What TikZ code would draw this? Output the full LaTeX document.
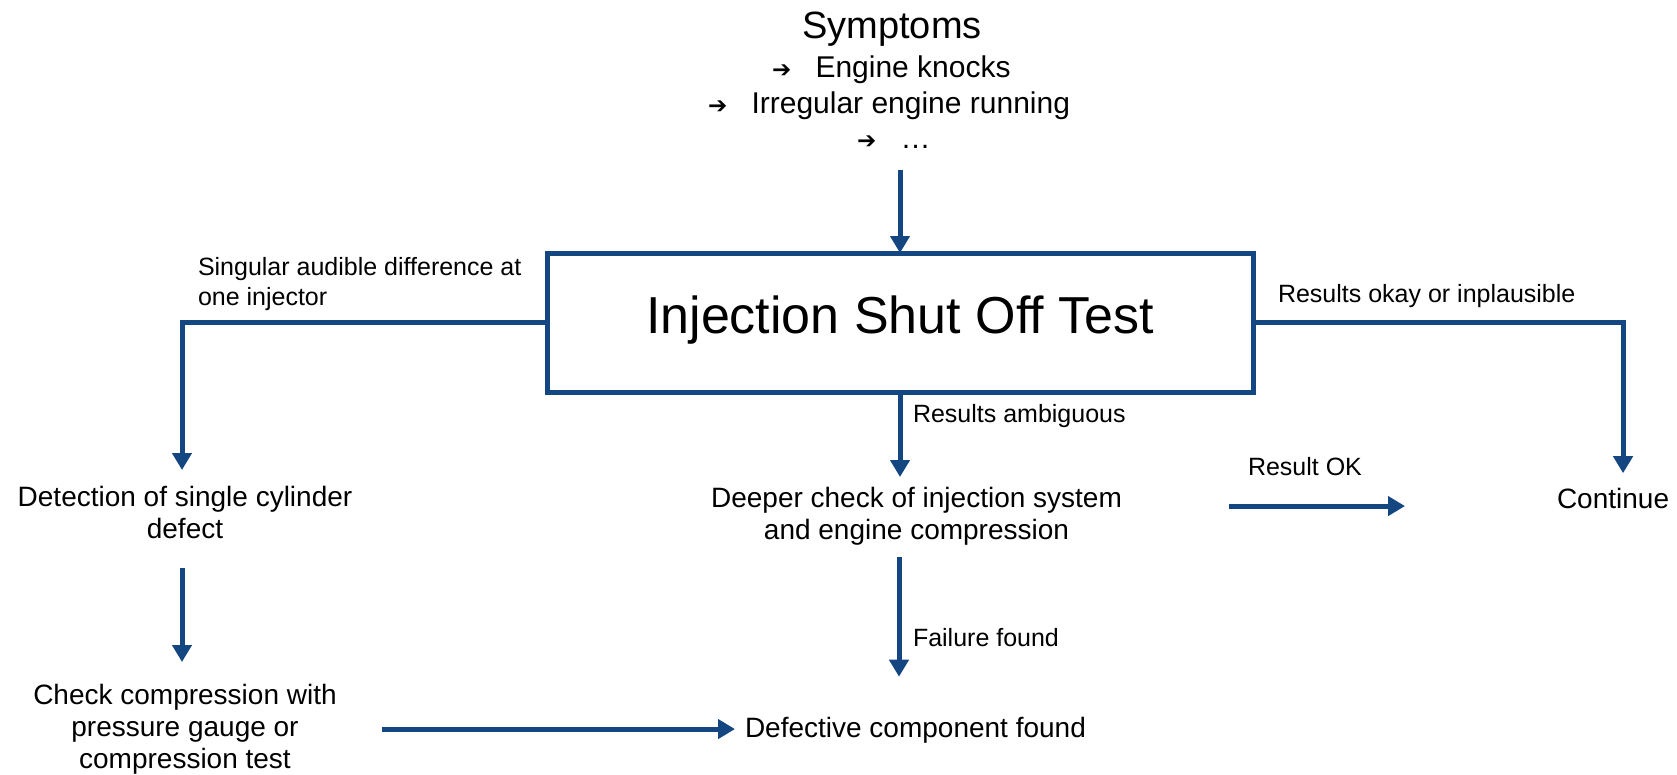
\documentclass[tikz,border=0pt]{standalone}
\usepackage{fontspec}
\setmainfont{Liberation Sans}
\newfontfamily\djv{DejaVu Sans}
\usetikzlibrary{arrows.meta,calc}
\definecolor{flowblue}{RGB}{20,70,130}
\newcommand{\fsz}[2]{\fontsize{#1}{#2}\selectfont}
\newcommand{\arw}{\makebox[43.5pt][l]{\djv\bfseries\fontsize{23}{23}\selectfont ➔}}
\begin{document}
\begin{tikzpicture}[x=1pt,y=-1pt,
  conn/.style={draw=flowblue,line width=5pt,-{Triangle[width=19pt,length=17pt]}},
  every node/.style={inner sep=0pt,outer sep=0pt},
  stepnode/.style={font=\fsz{28}{32},align=center},
  lbl/.style={font=\fsz{25}{30},align=left},
  sym/.style={font=\fsz{30}{36},anchor=base west}]
\useasboundingbox (0,0) rectangle (1677,774);
% symptoms
\node[font=\fsz{38}{44},anchor=base] (symp) at (892,38) {Symptoms};
\node[sym] (s1) at (772,77) {\arw Engine knocks};
\node[sym] (s2) at (708,113) {\arw Irregular engine running};
\node[sym] (s3) at (857,148) {\arw …};
\coordinate (symtail) at (900,170);
% main box
\node[draw=flowblue,line width=5pt,minimum width=706pt,minimum height=139pt,font=\fsz{52}{60}] (box) at (900,322.5) {\raisebox{-10.5pt}[0pt][0pt]{Injection Shut Off Test}};
% steps
\node[stepnode,anchor=north] (det) at (185,486) {Detection of single cylinder\\defect};
\node[stepnode,anchor=north] (deep) at (916.5,487) {Deeper check of injection system\\and engine compression};
\node[stepnode,anchor=north] (chk) at (185,684) {Check compression with\\pressure gauge or\\compression test};
\node[stepnode,anchor=base west] (def) at (745,737) {Defective component found};
\node[stepnode,anchor=base west] (cont) at (1557,508) {Continue};
% labels
\node[lbl,anchor=north west] (lsing) at (198,257) {Singular audible difference at\\one injector};
\node[lbl,anchor=base west] (lok) at (1278,302) {Results okay or inplausible};
\node[lbl,anchor=base west] (lamb) at (913,422) {Results ambiguous};
\node[lbl,anchor=base west] (lfail) at (913,646) {Failure found};
\node[lbl,anchor=base west] (lres) at (1248,475) {Result OK};
% connectors
\draw[conn] (symtail) -- (box.north);
\draw[conn] (box.west) -| ($(det.north)+(-3,-16)$);
\draw[conn] ($(det.south)+(-3,29)$) -- ($(chk.north)+(-3,-22)$);
\draw[conn] (box.south) -- ($(box.south |- deep.north)+(0,-10)$);
\draw[conn] ($(box.south |- deep.south)+(-1,12)$) -- ($(box.south |- def.north)+(-1,-40)$);
\draw[conn] (box.east) -| ($(cont.north)+(10,-14.5)$);
\coordinate (okstart) at ($(deep.east)+(107,-10)$);
\draw[conn] (okstart) -- ($(okstart -| cont.west)+(-152,0)$);
\coordinate (chkstart) at ($(chk.east)+(45,0)$);
\draw[conn] (chkstart) -- ($(chkstart -| def.west)+(-10,0)$);
\end{tikzpicture}
\end{document}
